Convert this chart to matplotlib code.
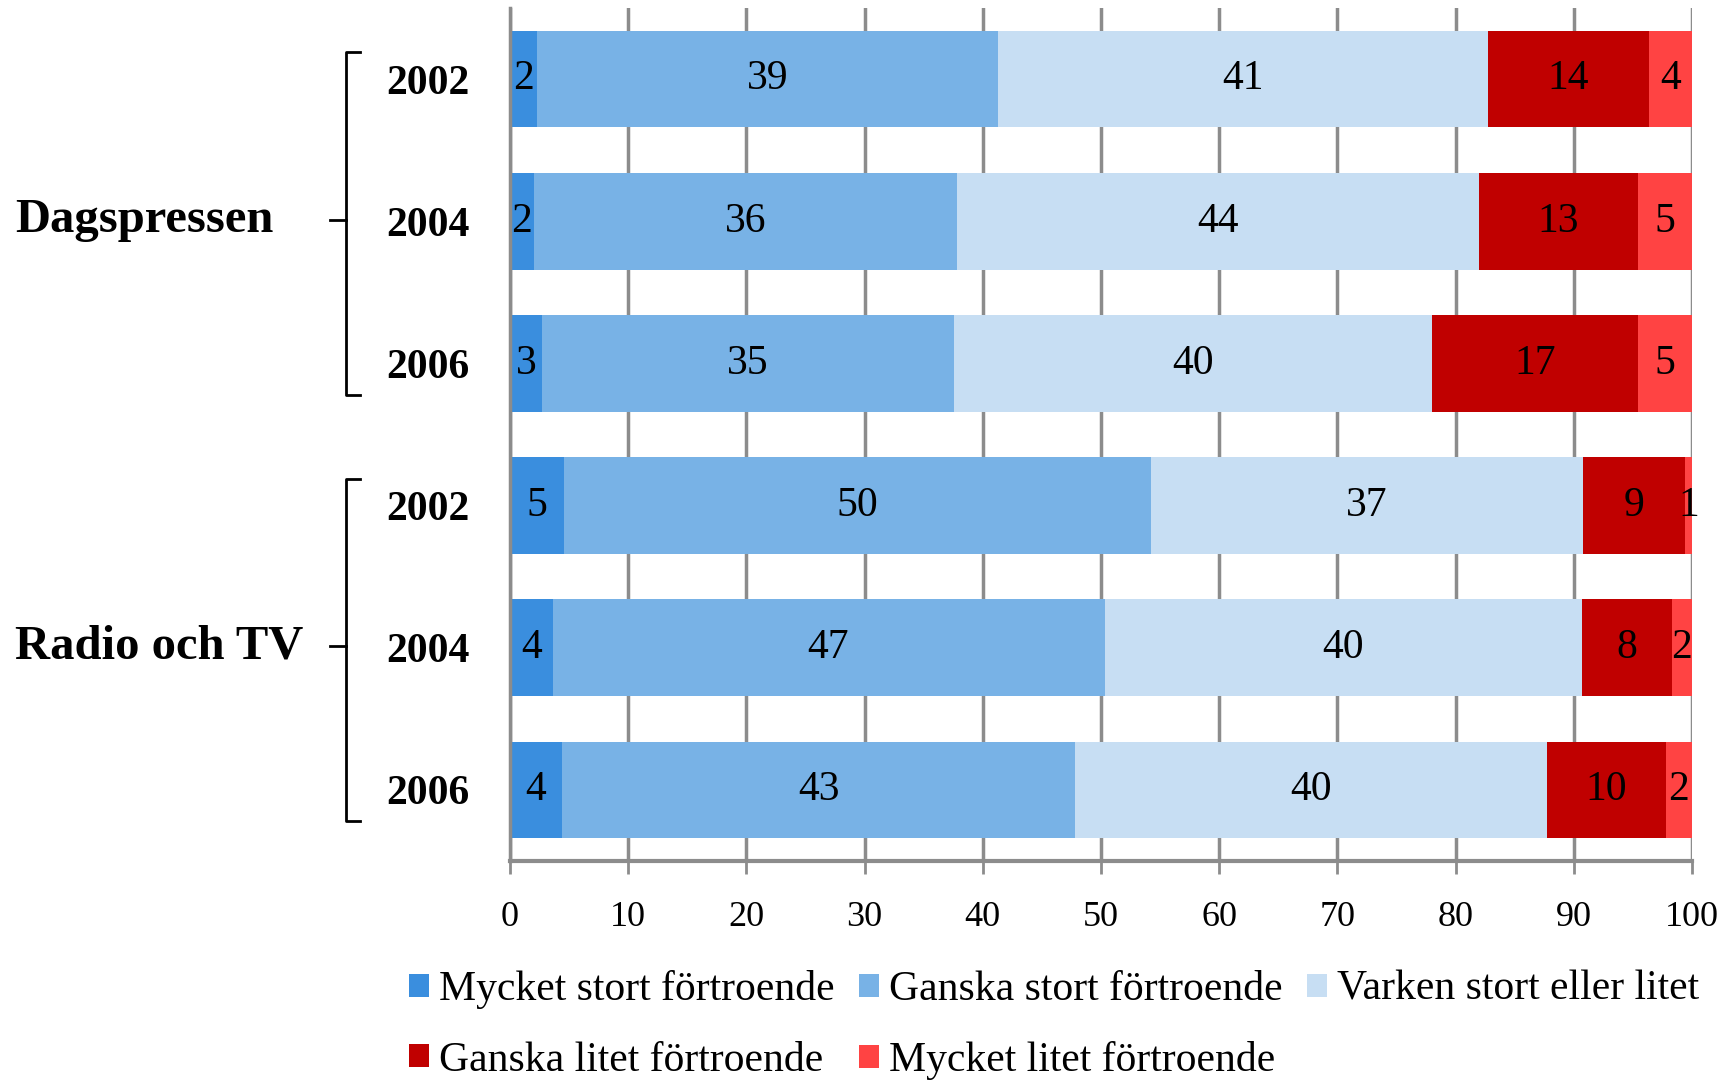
import matplotlib.pyplot as plt
from matplotlib.lines import Line2D
from matplotlib.patches import Patch
from matplotlib.transforms import blended_transform_factory

plt.rcParams['font.family'] = ['Liberation Serif', 'DejaVu Serif']

# data
years = ['2002', '2004', '2006', '2002', '2004', '2006']
groups = ['Dagspressen', 'Radio och TV']
series = ['Mycket stort förtroende', 'Ganska stort förtroende', 'Varken stort eller litet',
          'Ganska litet förtroende', 'Mycket litet förtroende']
colors = ['#3a8ede', '#78b2e6', '#c7def3', '#c00000', '#ff4343']

mycket_stort = [2.3, 2.0, 2.7, 4.6, 3.6, 4.4]
ganska_stort = [39.0, 35.8, 34.9, 49.6, 46.7, 43.4]
varken = [41.4, 44.2, 40.4, 36.6, 40.4, 39.9]
ganska_litet = [13.7, 13.4, 17.4, 8.6, 7.6, 10.1]
mycket_litet = [3.6, 4.6, 4.6, 0.6, 1.7, 2.2]
values = [mycket_stort, ganska_stort, varken, ganska_litet, mycket_litet]

W, H = 1734, 1082
fig = plt.figure(figsize=(W / 100, H / 100), dpi=100)
ax = fig.add_axes([510 / W, 1 - 861 / H, (1692 - 510) / W, (861 - 8) / H])

ypos = list(range(len(years)))
left = [0] * len(years)
handles = []
for vals, col, name in zip(values, colors, series):
    bars = ax.barh(ypos, vals, left=left, height=0.68, color=col, zorder=2)
    ax.bar_label(bars, labels=['%.0f' % v for v in vals], label_type='center',
                 fontsize=30, color='black')
    left = [a + b for a, b in zip(left, vals)]
    handles.append(Patch(facecolor=col, label=name))

ax.set_xlim(0, 100)
ax.set_ylim(5.5, -0.5)
ax.set_xticks(range(0, 101, 10))
ax.set_yticks(ypos)
ax.set_yticklabels(years, fontsize=30, fontweight='bold')
ax.tick_params(axis='y', length=0, pad=29)
ax.tick_params(axis='x', length=9, width=2, color='#8c8c8c', labelsize=26, pad=20)
ax.grid(axis='x', color='#8c8c8c', lw=2.5, zorder=0)
ax.set_axisbelow(True)
for s in ['top', 'right']:
    ax.spines[s].set_visible(False)
ax.spines['left'].set_color('#8c8c8c')
ax.spines['left'].set_linewidth(2.5)
ax.spines['bottom'].set_color('#8c8c8c')
ax.spines['bottom'].set_linewidth(3)

# group braces and labels
tr = blended_transform_factory(fig.transFigure, ax.transData)
for i, g in enumerate(groups):
    y0 = 3 * i - 0.19
    y1 = 3 * i + 2.22
    ym = 3 * i + 0.99
    xv, xh, xm = 346 / W, 360 / W, 330 / W
    fig.add_artist(Line2D([xh, xv, xv, xh], [y0, y0, y1, y1], transform=tr,
                          color='black', lw=2))
    fig.add_artist(Line2D([xm, xv], [ym, ym], transform=tr, color='black', lw=2))
    fig.text(15 / W, ym, g, transform=tr, fontsize=35, fontweight='bold',
             ha='left', va='center')

order = [0, 3, 1, 4, 2]
fig.legend([handles[k] for k in order], [series[k] for k in order],
           loc='upper left', bbox_to_anchor=(409 / W, 1 - 970 / H), ncol=3,
           frameon=False, fontsize=30, handlelength=0.48, handleheight=0.48,
           handletextpad=0.24, columnspacing=0.58, labelspacing=0.77,
           borderpad=0, borderaxespad=0)

fig.savefig('out.png', dpi=100)
